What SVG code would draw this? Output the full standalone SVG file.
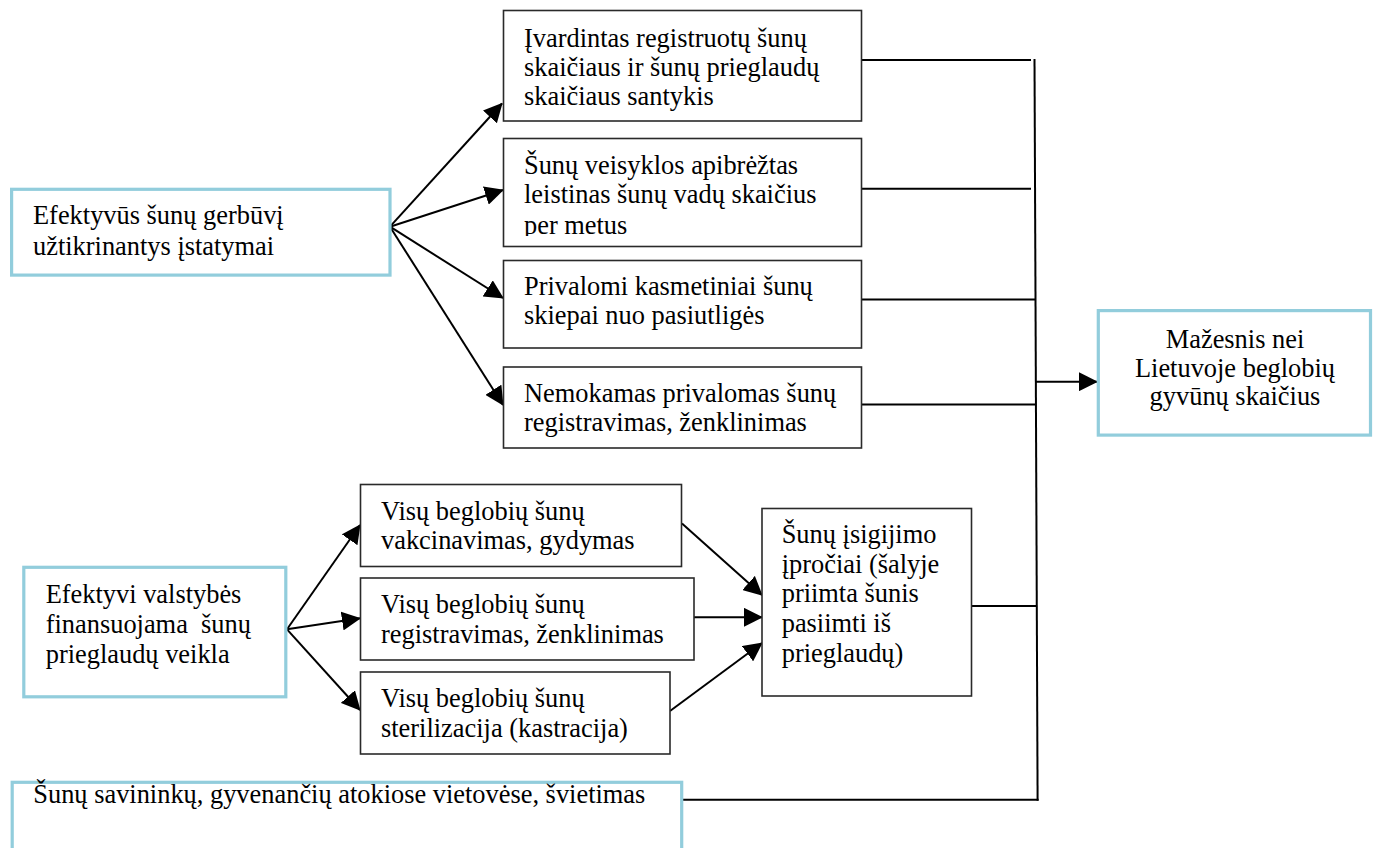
<svg xmlns="http://www.w3.org/2000/svg" width="1379" height="848" viewBox="0 0 1379 848">
<style>
  .t { font-family: "Liberation Serif", "Times New Roman", serif; font-size: 26.4px; fill: #000; white-space: pre; }
  .box { fill: #fff; stroke: #2a2a2a; stroke-width: 1.6; }
  .cbox { fill: #fff; stroke: #92CDDC; stroke-width: 3.2; }
  .ln { fill: none; stroke: #000; stroke-width: 2; }
  .arr { fill: none; stroke: #000; stroke-width: 2; marker-end: url(#ah); }
</style>
<defs>
  <marker id="ah" viewBox="0 0 20 20" refX="19" refY="10" markerWidth="19" markerHeight="19" markerUnits="userSpaceOnUse" orient="auto">
    <path d="M0,0 L20,10 L0,20 z" fill="#000"/>
  </marker>
  <clipPath id="clipB2"><rect x="504" y="139" width="357" height="97"/></clipPath>
</defs>
<rect width="1379" height="848" fill="#fff"/>

<g id="connectors">
  <line class="arr" x1="390" y1="226.7" x2="502" y2="103.5"/>
  <line class="arr" x1="390" y1="226.7" x2="503" y2="190"/>
  <line class="arr" x1="390" y1="226.7" x2="503" y2="298"/>
  <line class="arr" x1="390" y1="226.7" x2="503" y2="405"/>
  <line class="ln" x1="862" y1="60" x2="1031" y2="60"/>
  <line class="ln" x1="862" y1="188.7" x2="1031" y2="188.7"/>
  <line class="ln" x1="862" y1="299.5" x2="1035.5" y2="299.5"/>
  <line class="ln" x1="862" y1="404.5" x2="1036" y2="404.5"/>
  <line class="ln" x1="1034.5" y1="59" x2="1037.6" y2="800.7"/>
  <line class="arr" x1="1036" y1="381.7" x2="1097" y2="381.7"/>
  <line class="arr" x1="287" y1="629.3" x2="360" y2="525"/>
  <line class="arr" x1="287" y1="629.3" x2="360" y2="618.3"/>
  <line class="arr" x1="287" y1="629.3" x2="360" y2="710"/>
  <line class="arr" x1="682" y1="523.5" x2="762" y2="595"/>
  <line class="arr" x1="694" y1="617.3" x2="762" y2="617.3"/>
  <line class="arr" x1="670" y1="711" x2="762" y2="643"/>
  <line class="ln" x1="972" y1="606" x2="1036.5" y2="606"/>
  <line class="ln" x1="683" y1="799.7" x2="1038.6" y2="799.7"/>
</g>

<g id="n-istatymai">
  <rect class="cbox" x="11.6" y="189.3" width="378.4" height="85.8"/>
  <text class="t" x="33" y="223.5">Efektyvūs šunų gerbūvį</text>
  <text class="t" x="33" y="255">užtikrinantys įstatymai</text>
</g>

<g id="n-ivardintas">
  <rect class="box" x="503.5" y="10.5" width="358" height="110.5"/>
  <text class="t" x="524" y="46.7">Įvardintas registruotų šunų</text>
  <text class="t" x="524" y="76">skaičiaus ir šunų prieglaudų</text>
  <text class="t" x="524" y="105">skaičiaus santykis</text>
</g>

<g id="n-veisyklos">
  <rect class="box" x="503.5" y="138.5" width="358" height="108"/>
  <g clip-path="url(#clipB2)">
    <text class="t" x="524" y="174">Šunų veisyklos apibrėžtas</text>
    <text class="t" x="524" y="203.3">leistinas šunų vadų skaičius</text>
    <text class="t" x="524" y="233.8">per metus</text>
  </g>
</g>

<g id="n-skiepai">
  <rect class="box" x="503.5" y="260.5" width="358" height="87.5"/>
  <text class="t" x="524" y="295">Privalomi kasmetiniai šunų</text>
  <text class="t" x="524" y="324">skiepai nuo pasiutligės</text>
</g>

<g id="n-registravimas">
  <rect class="box" x="503.5" y="367" width="358" height="81"/>
  <text class="t" x="524" y="401.5">Nemokamas privalomas šunų</text>
  <text class="t" x="524" y="431">registravimas, ženklinimas</text>
</g>

<g id="n-mazesnis">
  <rect class="cbox" x="1098.3" y="310.6" width="272.2" height="124.5"/>
  <text class="t" x="1235" y="348" text-anchor="middle">Mažesnis nei</text>
  <text class="t" x="1235" y="376.7" text-anchor="middle">Lietuvoje beglobių</text>
  <text class="t" x="1235" y="405" text-anchor="middle">gyvūnų skaičius</text>
</g>

<g id="n-finansuojama">
  <rect class="cbox" x="23.8" y="567.3" width="262" height="129.5"/>
  <text class="t" x="45.7" y="602.7">Efektyvi valstybės</text>
  <text class="t" x="45.7" y="633.3">finansuojama  šunų</text>
  <text class="t" x="45.7" y="662.7">prieglaudų veikla</text>
</g>

<g id="n-vakcinavimas">
  <rect class="box" x="360.5" y="484.5" width="321" height="82"/>
  <text class="t" x="381" y="520">Visų beglobių šunų</text>
  <text class="t" x="381" y="549.3">vakcinavimas, gydymas</text>
</g>

<g id="n-zenklinimas">
  <rect class="box" x="360.5" y="578" width="333.5" height="82"/>
  <text class="t" x="381" y="613.3">Visų beglobių šunų</text>
  <text class="t" x="381" y="643.3">registravimas, ženklinimas</text>
</g>

<g id="n-sterilizacija">
  <rect class="box" x="360.5" y="672" width="309.5" height="82"/>
  <text class="t" x="381" y="707.3">Visų beglobių šunų</text>
  <text class="t" x="381" y="736.7">sterilizacija (kastracija)</text>
</g>

<g id="n-iprociai">
  <rect class="box" x="762" y="508.5" width="209.5" height="187.5"/>
  <text class="t" x="781.7" y="543">Šunų įsigijimo</text>
  <text class="t" x="781.7" y="572.7">įpročiai (šalyje</text>
  <text class="t" x="781.7" y="601.7">priimta šunis</text>
  <text class="t" x="781.7" y="631.7">pasiimti iš</text>
  <text class="t" x="781.7" y="661.7">prieglaudų)</text>
</g>

<g id="n-svietimas">
  <rect class="cbox" x="12.2" y="782.3" width="669.5" height="90"/>
  <text class="t" x="33.3" y="802.7">Šunų savininkų, gyvenančių atokiose vietovėse, švietimas</text>
</g>
</svg>
